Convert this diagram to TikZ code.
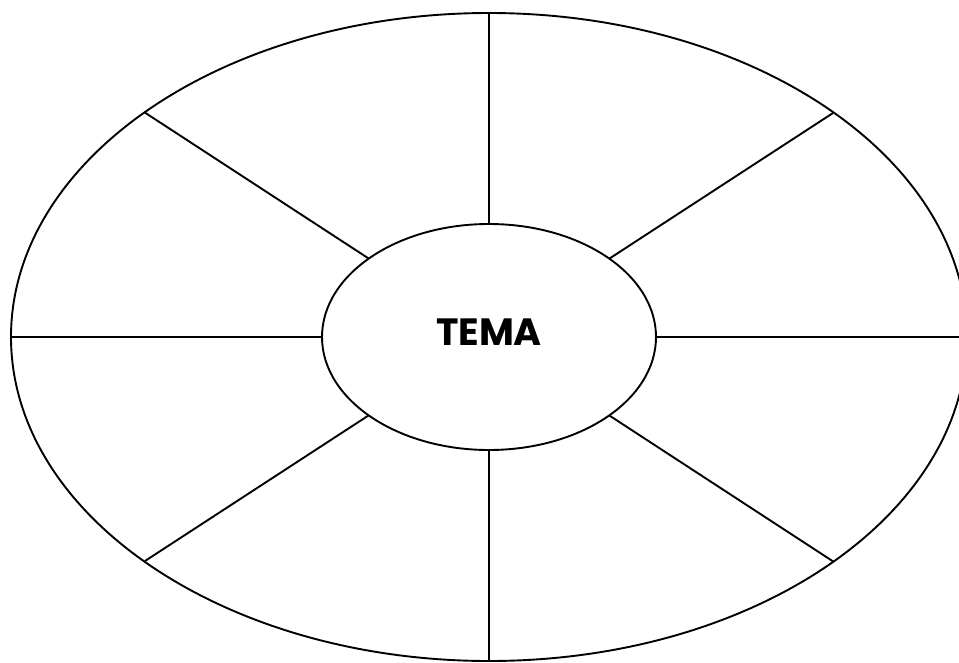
\documentclass[tikz,border=0pt]{standalone}
\usepackage{fontspec}
\newfontfamily\temafont{Poppins}
\usetikzlibrary{shapes.geometric}
\begin{document}
\begin{tikzpicture}[x=1pt,y=-1pt,
  ring/.style={ellipse, draw, line width=1.9pt, inner sep=0pt, outer sep=0pt},
  spoke/.style={draw, line width=1.9pt},
  title/.style={font=\temafont\bfseries\fontsize{38}{40}\selectfont, inner sep=0pt}]
\useasboundingbox (0,0) rectangle (959,662);
\clip (0,0) rectangle (959,662);
\node[ring, minimum width=956pt, minimum height=648pt] (outer) at (489,337) {};
\node[ring, minimum width=334pt, minimum height=226pt] (tema) at (489,337) {};
\node[title] (label) at (489,332) {TEMA};
\coordinate (tl) at (144,112);
\coordinate (tr) at (833,113);
\coordinate (bl) at (145,561);
\coordinate (br) at (834,562);
\draw[spoke] (tema.north) -- (outer.north);
\draw[spoke] (tema.south) -- (outer.south);
\draw[spoke] (tema.west) -- (outer.west);
\draw[spoke] (tema.east) -- (outer.east);
\draw[spoke] (tema) -- (tl);
\draw[spoke] (tema) -- (tr);
\draw[spoke] (tema) -- (bl);
\draw[spoke] (tema) -- (br);
\end{tikzpicture}
\end{document}
